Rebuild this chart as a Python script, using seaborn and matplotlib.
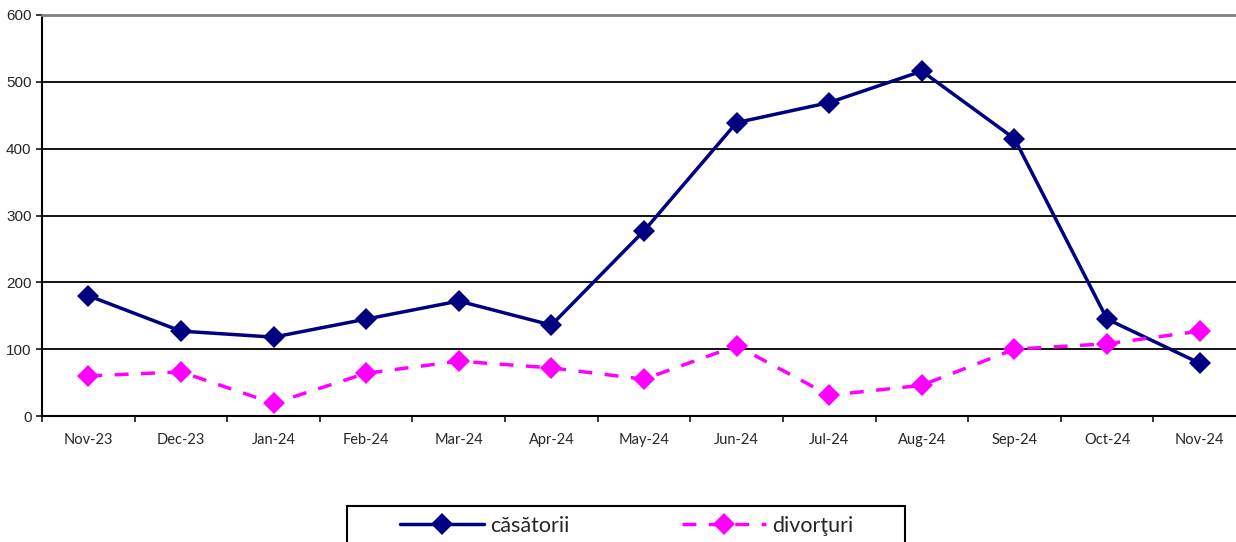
import numpy as np
import pandas as pd
import seaborn as sns
import matplotlib.pyplot as plt
from matplotlib.patches import Rectangle
from matplotlib.ticker import FixedLocator, NullFormatter

# date lunare
luni = ['Nov-23', 'Dec-23', 'Jan-24', 'Feb-24', 'Mar-24', 'Apr-24', 'May-24',
        'Jun-24', 'Jul-24', 'Aug-24', 'Sep-24', 'Oct-24', 'Nov-24']
casatorii = [180, 127, 118, 145, 172, 136, 277, 439, 469, 516, 415, 145, 79]
divorturi = [60, 66, 19, 64, 82, 72, 55, 105, 31, 46, 100, 108, 127]
yticks = [0, 100, 200, 300, 400, 500, 600]

df = pd.DataFrame({'luna': luni, 'poz': np.arange(len(luni)),
                   'căsătorii': casatorii, 'divorţuri': divorturi})

sns.set_style('white')
plt.rcParams['font.family'] = ['Liberation Sans', 'DejaVu Sans']

fig = plt.figure(figsize=(12.36, 5.42), dpi=100)
ax = fig.add_axes([42 / 1236, 1 - 416 / 542, 1204 / 1236, 401 / 542])

sns.lineplot(data=df, x='poz', y='căsătorii', ax=ax, color='#000080', lw=2.5,
             marker='D', markersize=11, markeredgewidth=0, errorbar=None)
sns.lineplot(data=df, x='poz', y='divorţuri', ax=ax, color='#FF00FF', lw=2.5,
             marker='D', markersize=11, markeredgewidth=0, errorbar=None,
             dashes=False)
ax.lines[1].set_dashes((4, 3.6))

ax.set_xlim(-0.5, len(luni) - 0.5)
ax.set_ylim(0, 600)
ax.set_xlabel('')
ax.set_ylabel('')

# linii orizontale
for v in yticks[1:-1]:
    ax.axhline(v, color='black', lw=1.3, zorder=0)

ax.set_yticks(yticks)
ax.tick_params(axis='y', length=4, width=1.3, pad=3.5, labelsize=11, left=True)
ax.xaxis.set_major_locator(FixedLocator(np.arange(len(luni) + 1) - 0.5))
ax.xaxis.set_major_formatter(NullFormatter())
ax.xaxis.set_minor_locator(FixedLocator(np.arange(len(luni))))
ax.set_xticks(np.arange(len(luni)), luni, minor=True)
ax.tick_params(axis='x', which='major', length=4, width=1.3, bottom=True)
ax.tick_params(axis='x', which='minor', length=0, pad=12, labelsize=10.5)
for t in ax.get_xticklabels(minor=True):
    t.set_family(['Lato', 'DejaVu Sans'])

for s in ['left', 'bottom']:
    ax.spines[s].set_color('black')
    ax.spines[s].set_linewidth(1.5)
ax.spines['top'].set_color('#808080')
ax.spines['top'].set_linewidth(2)
ax.spines['right'].set_visible(False)

# legenda
handles = ax.get_lines()[:2]
fig.legend(handles, ['căsătorii', 'divorţuri'], ncol=2, frameon=False,
           loc='center left', bbox_to_anchor=(400 / 1236, 1 - 526 / 542),
           borderaxespad=0, borderpad=0, handlelength=3.9, handletextpad=0.3,
           columnspacing=5.2, numpoints=1,
           prop={'family': ['Lato', 'DejaVu Sans'], 'size': 15.5})
fig.patches.append(Rectangle((347 / 1236, -0.05), 558 / 1236, 0.05 + 1 - 506 / 542,
                             transform=fig.transFigure, fill=False,
                             edgecolor='black', lw=1.5))

fig.savefig('out.png', dpi=100)
